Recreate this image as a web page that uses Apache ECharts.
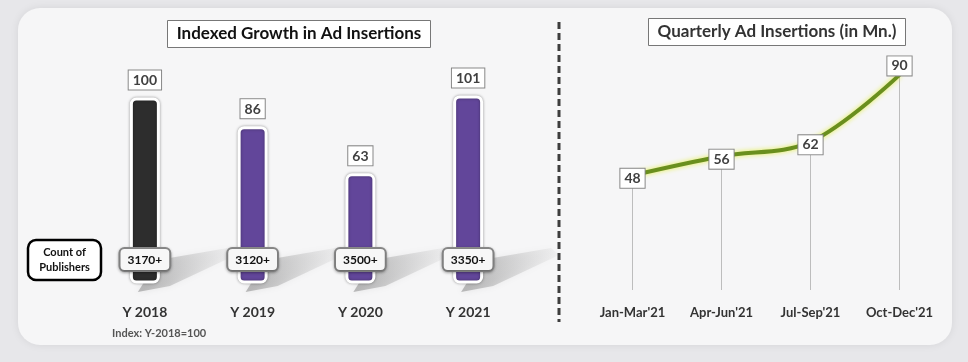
<!DOCTYPE html>
<html><head><meta charset="utf-8">
<script src="https://cdn.jsdelivr.net/npm/echarts@6/dist/echarts.min.js"></script>
<style>html,body{margin:0;padding:0;background:#e7e7ea}#c{width:968px;height:362px}</style>
</head><body><div id="c"></div>
<script>
const years = ['Y 2018', 'Y 2019', 'Y 2020', 'Y 2021'];
const indexValues = [100, 86, 63, 101];
const publisherCounts = ['3170+', '3120+', '3500+', '3350+'];
const quarters = ["Jan-Mar'21", "Apr-Jun'21", "Jul-Sep'21", "Oct-Dec'21"];
const quarterlyInsertions = [48, 56, 62, 90];

const FONT = 'Lato, "Open Sans", sans-serif';
const chart = echarts.init(document.getElementById('c'));

const barColors = ['#2d2d2d', '#62469a', '#62469a', '#62469a'];

const option = {
  backgroundColor: '#e7e7ea',
  animation: false,
  textStyle: { fontFamily: FONT },
  title: [
    { text: 'Indexed Growth in Ad Insertions', left: 290, top: 20, textAlign: 'center',
      padding: [4, 9, 4, 9], borderColor: '#777', borderWidth: 1, backgroundColor: '#fff',
      textStyle: { fontFamily: FONT, fontSize: 17, fontWeight: 'bold', color: '#111', lineHeight: 20 } },
    { text: 'Quarterly Ad Insertions (in Mn.)', left: 768, top: 18, textAlign: 'center',
      padding: [4, 9, 4, 9], borderColor: '#777', borderWidth: 1, backgroundColor: '#fff',
      textStyle: { fontFamily: FONT, fontSize: 17, fontWeight: 'bold', color: '#333', lineHeight: 20 } }
  ],
  graphic: [
    { type: 'rect', z: -10, shape: { x: 18, y: 8, width: 934, height: 337, r: 22 },
      style: { fill: '#f6f6f7', shadowBlur: 8, shadowColor: 'rgba(0,0,0,0.08)' } },
    { type: 'line', shape: { x1: 559, y1: 22, x2: 559, y2: 322 },
      style: { stroke: '#3d3d3d', lineWidth: 3, lineDash: [7, 4] } },
    { type: 'group', children: [
      { type: 'rect', shape: { x: 28, y: 240, width: 73, height: 40, r: 8 },
        style: { fill: '#fff', stroke: '#000', lineWidth: 2.5 } },
      { type: 'text', x: 64.5, y: 260,
        style: { text: 'Count of\nPublishers', fontFamily: FONT, fontSize: 11, fontWeight: 'bold',
          fill: '#111', align: 'center', verticalAlign: 'middle', lineHeight: 15 } }
    ] },
    { type: 'text', x: 112, y: 333,
      style: { text: 'Index: Y-2018=100', fontFamily: FONT, fontSize: 11, fontWeight: 'bold',
        fill: '#555', align: 'left', verticalAlign: 'middle' } }
  ],
  grid: [
    { left: 91, width: 431, top: 77, bottom: 362 - 282 },
    { left: 588, width: 356, top: 51, bottom: 362 - 290 }
  ],
  xAxis: [
    { type: 'category', gridIndex: 0, data: years,
      axisLine: { show: false }, axisTick: { show: false },
      axisLabel: { margin: 23, fontFamily: FONT, fontSize: 14, fontWeight: 'bold', color: '#333' } },
    { type: 'category', gridIndex: 1, data: quarters,
      axisLine: { show: false }, axisTick: { show: false },
      axisLabel: { margin: 16, fontFamily: FONT, fontSize: 13, fontWeight: 'bold', color: '#333' } }
  ],
  yAxis: [
    { type: 'value', gridIndex: 0, min: 10, max: 110, show: false },
    { type: 'value', gridIndex: 1, min: 0, max: 100, show: false }
  ],
  series: [
    { type: 'custom', xAxisIndex: 0, yAxisIndex: 0, z: 1, silent: true,
      data: indexValues.map((v, i) => [i, v]),
      renderItem: function (params, api) {
        const p = api.coord([api.value(0), 10]);
        const xr = p[0] + 15, yb = p[1];
        return { type: 'polygon',
          shape: { points: [[xr - 22, yb + 10], [xr - 2, yb - 22], [xr + 68, yb - 34], [xr + 76, yb - 27], [xr + 10, yb + 4]] },
          style: { fill: new echarts.graphic.LinearGradient(0, 0, 1, 0, [
            { offset: 0, color: 'rgba(110,110,110,0.45)' }, { offset: 1, color: 'rgba(150,150,150,0.05)' }]),
            shadowBlur: 6, shadowColor: 'rgba(120,120,120,0.35)' } };
      } },
    { type: 'bar', xAxisIndex: 0, yAxisIndex: 0, barWidth: 30, z: 3,
      data: indexValues.map((v, i) => ({ value: v, itemStyle: { color: barColors[i] } })),
      itemStyle: { borderColor: '#fff', borderWidth: 3, borderRadius: 5,
        shadowBlur: 3, shadowColor: 'rgba(0,0,0,0.35)' },
      label: { show: true, position: 'top', distance: 8, fontFamily: FONT, fontSize: 14, fontWeight: 'bold',
        color: '#404040', backgroundColor: '#fff', borderColor: '#888', borderWidth: 1,
        padding: [3, 4, 2, 4] } },
    { type: 'bar', xAxisIndex: 0, yAxisIndex: 0, barWidth: 30, barGap: '-100%', z: 4,
      data: indexValues, itemStyle: { color: 'transparent' },
      label: { show: true, position: 'insideBottom', distance: 12,
        formatter: p => publisherCounts[p.dataIndex],
        fontFamily: FONT, fontSize: 12, fontWeight: 'bold', color: '#111',
        backgroundColor: '#f7f7f7', borderColor: '#8a8a8a', borderWidth: 2, borderRadius: 4,
        padding: [5, 7, 4, 7], shadowBlur: 3, shadowColor: 'rgba(0,0,0,0.3)', shadowOffsetY: 1 } },
    { type: 'bar', xAxisIndex: 1, yAxisIndex: 1, barWidth: 1, z: 1,
      data: quarterlyInsertions, itemStyle: { color: '#bdbdbd' }, silent: true },
    { type: 'line', xAxisIndex: 1, yAxisIndex: 1, smooth: 0.35, z: 3,
      data: quarterlyInsertions.map((v, i) => i === quarterlyInsertions.length - 1
        ? { value: v, label: { offset: [0, -9] } } : { value: v, label: { offset: [0, 3] } }),
      symbol: 'circle', symbolSize: 1, showSymbol: true,
      itemStyle: { color: 'rgba(0,0,0,0)' },
      lineStyle: { color: '#6a8f1e', width: 4, shadowColor: '#e3ee4a', shadowBlur: 5 },
      label: { show: true, position: 'inside', fontFamily: FONT, fontSize: 14, fontWeight: 'bold',
        color: '#404040', backgroundColor: '#fff', borderColor: '#888', borderWidth: 1,
        padding: [3, 4, 2, 4] } }
  ]
};
chart.setOption(option);
</script></body></html>
